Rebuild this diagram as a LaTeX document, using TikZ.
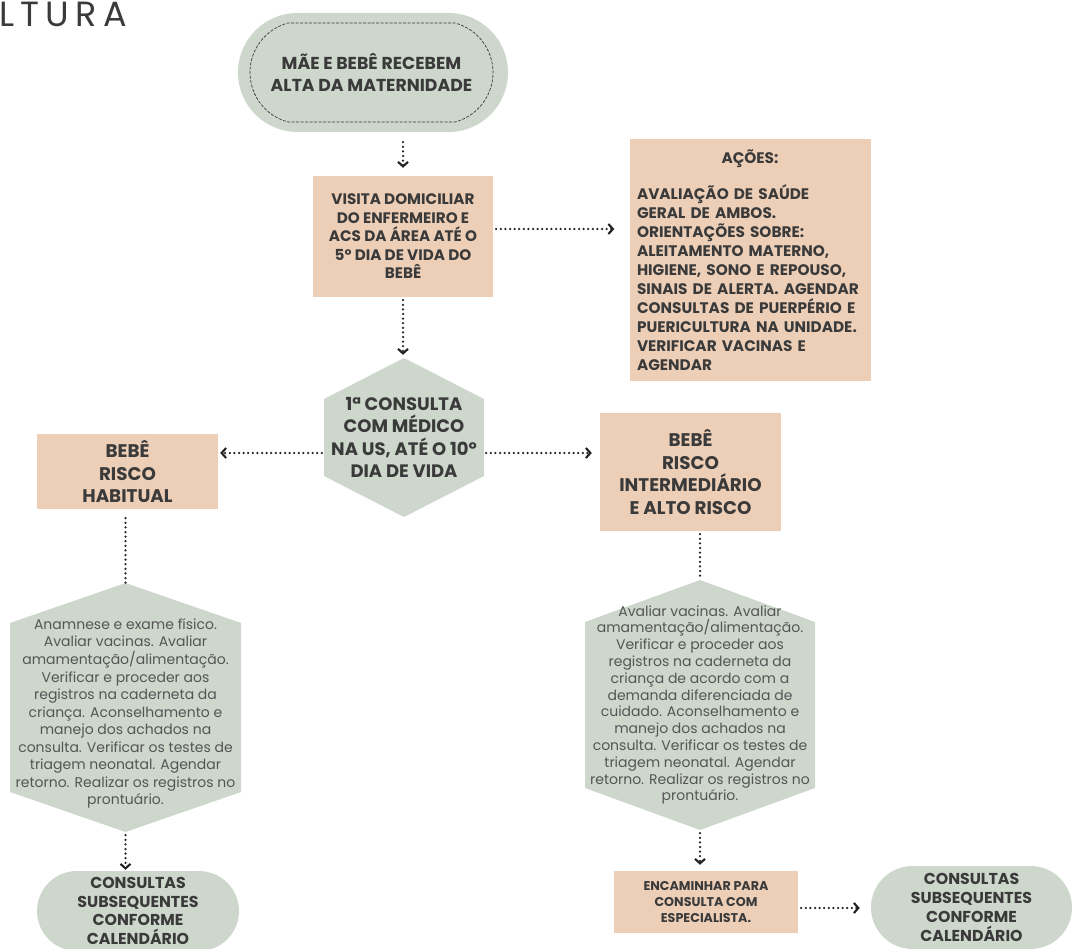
\documentclass[tikz,border=0pt]{standalone}
\usepackage{fontspec}
\setmainfont{Poppins}
\usetikzlibrary{arrows.meta,shapes.misc,calc}
\definecolor{peach}{HTML}{EDCFB8}
\definecolor{sage}{HTML}{CDD7CC}
\definecolor{ink}{HTML}{3A3A3A}
\definecolor{soft}{HTML}{555555}
\definecolor{lineink}{HTML}{222222}
\begin{document}
\begin{tikzpicture}[x=1pt,y=-1pt,
  box/.style={rectangle, fill=peach, inner sep=0pt, align=center, text=ink, font=\bfseries},
  pill/.style={rounded rectangle, fill=sage, inner sep=0pt, align=center, text=ink, font=\bfseries},
  hexa/.style={rectangle, inner sep=0pt, align=center, text=soft,
    path picture={\fill[sage] (path picture bounding box.north)
      -- ([yshift=-#1]path picture bounding box.north east)
      -- ([yshift=#1]path picture bounding box.south east)
      -- (path picture bounding box.south)
      -- ([yshift=#1]path picture bounding box.south west)
      -- ([yshift=-#1]path picture bounding box.north west) -- cycle;}},
  conn/.style={draw=lineink, line width=2.5pt, dash pattern=on 0pt off 4.6pt, line cap=round},
  tip/.style={-{Straight Barb[length=4.5pt,width=10pt,line width=2.1pt]}}
]
\useasboundingbox (0,0) rectangle (1076,949);

% title fragment
\node[anchor=base west, inner sep=0pt, text=ink, font=\fontsize{35}{35}\selectfont\addfontfeatures{LetterSpace=18}] (title) at (-1,27) {LTURA};

% top stadium
\node[pill, minimum width=270, minimum height=119] (top) at (373,72.5) {};
\node[rounded rectangle, rounded rectangle arc length=150, draw=ink, line width=0.7pt, dash pattern=on 3pt off 1.5pt,
  minimum width=243, minimum height=99, inner sep=0pt, align=center, text=ink,
  font=\bfseries\fontsize{17.3}{22}\selectfont] (topin) at (371.5,72.5) {MÃE E BEBÊ RECEBEM\\ALTA DA MATERNIDADE};

% visit box
\node[box, minimum width=180, minimum height=121, font=\bfseries\fontsize{15.2}{18.5}\selectfont] (visit) at (403,236.5)
  {VISITA DOMICILIAR\\DO ENFERMEIRO E\\ACS DA ÁREA ATÉ O\\5º DIA DE VIDA DO\\BEBÊ};

% actions box
\node[box, minimum width=241, minimum height=242, text width=226, align=left, font=\bfseries\fontsize{15.3}{19}\selectfont] (acoes) at (750,260)
  {\makebox[226pt]{AÇÕES:}\\[16pt]
   AVALIAÇÃO DE SAÚDE\\GERAL DE AMBOS.\\ORIENTAÇÕES SOBRE:\\ALEITAMENTO MATERNO,\\HIGIENE, SONO E REPOUSO,\\SINAIS DE ALERTA. AGENDAR\\CONSULTAS DE PUERPÉRIO E\\PUERICULTURA NA UNIDADE.\\VERIFICAR VACINAS E\\AGENDAR};

% first consultation hexagon
\node[hexa=41pt, minimum width=160, minimum height=159, text=ink, font=\bfseries\fontsize{18}{22.3}\selectfont] (h1) at (404,437.5)
  {1ª CONSULTA\\COM MÉDICO\\NA US, ATÉ O 10º\\DIA DE VIDA};

% risk boxes
\node[box, minimum width=181, minimum height=75, font=\bfseries\fontsize{18.3}{22.5}\selectfont] (hab) at (127.5,471.5)
  {BEBÊ\\RISCO\\HABITUAL};
\node[box, minimum width=181, minimum height=118, font=\bfseries\fontsize{18.3}{22.7}\selectfont] (inter) at (690.5,472)
  {BEBÊ\\RISCO\\INTERMEDIÁRIO\\E ALTO RISCO};

% detail hexagons
\node[hexa=40pt, minimum width=231, minimum height=249, font=\fontsize{14}{17.5}\selectfont] (hexL) at (125.5,707.5)
  {\raisebox{-6pt}[\height][\depth]{\begin{tabular}{@{}c@{}}Anamnese e exame físico.\\Avaliar vacinas. Avaliar\\amamentação/alimentação.\\Verificar e proceder aos\\registros na caderneta da\\criança. Aconselhamento e\\manejo dos achados na\\consulta. Verificar os testes de\\triagem neonatal. Agendar\\retorno. Realizar os registros no\\prontuário.\end{tabular}}};
\node[hexa=42pt, minimum width=230, minimum height=250, font=\fontsize{14}{16.8}\selectfont] (hexR) at (700,705)
  {Avaliar vacinas. Avaliar\\amamentação/alimentação.\\Verificar e proceder aos\\registros na caderneta da\\criança de acordo com a\\demanda diferenciada de\\cuidado. Aconselhamento e\\manejo dos achados na\\consulta. Verificar os testes de\\triagem neonatal. Agendar\\retorno. Realizar os registros no\\prontuário.};

% bottom nodes
\node[pill, minimum width=202, minimum height=80, font=\bfseries\fontsize{15.8}{18.8}\selectfont] (stL) at (138,911)
  {CONSULTAS\\SUBSEQUENTES\\CONFORME\\CALENDÁRIO};
\node[box, minimum width=184, minimum height=62, font=\bfseries\fontsize{12.7}{16}\selectfont] (enc) at (706,902)
  {ENCAMINHAR PARA\\CONSULTA COM\\ESPECIALISTA.};
\node[pill, minimum width=201, minimum height=83, font=\bfseries\fontsize{15.8}{18.8}\selectfont] (stR) at (971.5,907.5)
  {CONSULTAS\\SUBSEQUENTES\\CONFORME\\CALENDÁRIO};

% connectors
\draw[conn,tip,shorten <=10pt,shorten >=8pt] (top.south -| visit.north) -- (visit.north);
\draw[conn,tip,shorten <=3pt,shorten >=15pt] ([yshift=7.5pt]visit.east) -- ([yshift=7.5pt]visit.east -| acoes.west);
\draw[conn,tip,shorten <=3pt,shorten >=3pt] (visit.south) -- (visit.south |- h1.north);
\draw[conn,tip,shorten <=2pt,shorten >=2pt] ([yshift=-15.5pt]h1.west) -- ([yshift=-15.5pt]h1.west -| hab.east);
\draw[conn,tip,shorten <=2pt,shorten >=8pt] ([yshift=-15.5pt]h1.east) -- ([yshift=-15.5pt]h1.east -| inter.west);
\draw[conn,shorten <=9pt] (hab.south -| hexL.north) -- (hexL.north);
\draw[conn,shorten <=3pt] (inter.south -| hexR.north) -- (hexR.north);
\draw[conn,tip,shorten <=3pt,shorten >=1pt] (hexL.south) -- (hexL.south |- stL.north);
\draw[conn,tip,shorten <=3pt,shorten >=6pt] (hexR.south) -- (hexR.south |- enc.north);
\draw[conn,tip,shorten <=3pt,shorten >=11pt] ([yshift=-6pt]enc.east) -- ([yshift=-6pt]enc.east -| stR.west);
\end{tikzpicture}
\end{document}
